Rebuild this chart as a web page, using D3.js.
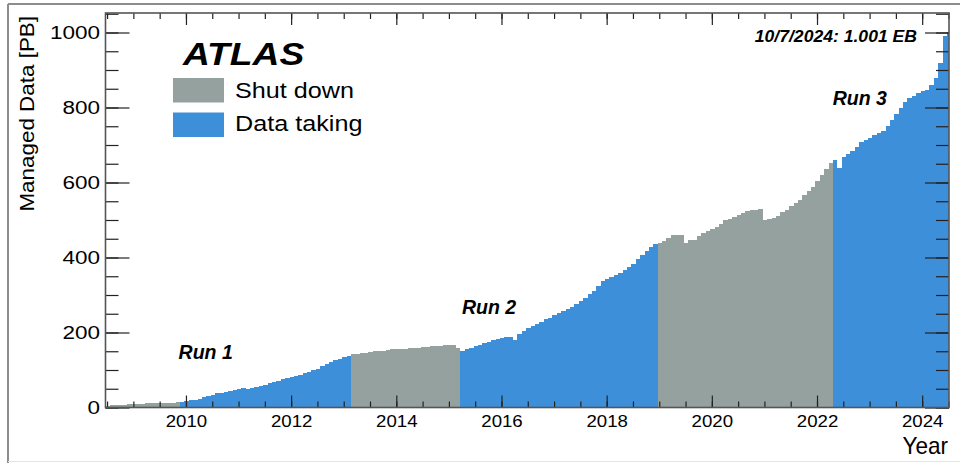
<!DOCTYPE html>
<html>
<head>
<meta charset="utf-8">
<script src="https://cdn.jsdelivr.net/npm/d3@7"></script>
<style>
  body { margin: 0; background: #fff; }
  text { font-family: "Liberation Sans", Arial, Helvetica, sans-serif; fill: #000; }
</style>
</head>
<body>
<svg width="960" height="463"></svg>
<script>
// monthly bins, first one starts mid 2008
const firstBinYear = 2008.47;
const binsPerYear = 12;

// managed data [PB] per monthly bin
const managedPB = [
  // shut down before run 1
  5, 6, 7, 8, 8, 9, 9, 10, 10, 11, 11, 11, 12, 12, 13, 13, 14,
  // run 1
  16, 17, 19, 21, 24, 27, 30, 34, 38, 40, 42, 45, 48, 50, 51, 50, 52, 55, 58, 61,
  65, 69, 72, 75, 78, 81, 84, 87, 91, 95, 99, 104, 110, 116, 121, 126, 130, 134, 138,
  // long shutdown 1
  143, 144, 146, 146, 148, 150, 151, 152, 153, 155, 156, 157, 157, 158, 159, 160,
  161, 162, 163, 164, 165, 166, 167, 167, 158,
  // run 2
  150, 155, 160, 164, 168, 172, 176, 179, 182, 185, 187, 188, 181, 196, 204, 211,
  218, 224, 229, 235, 240, 246, 252, 258, 263, 268, 276, 285, 293, 302, 312, 325,
  338, 342, 348, 353, 358, 366, 374, 382, 395, 407, 418, 428, 436,
  // long shutdown 2
  439, 444, 452, 459, 459, 459, 440, 448, 448, 458, 466, 472, 476, 482, 490, 499,
  504, 509, 514, 519, 523, 526, 527, 529, 501, 504, 506, 510, 522, 528, 537, 545,
  554, 566, 577, 587, 603, 620, 637, 652,
  // run 3
  660, 640, 667, 676, 684, 696, 708, 713, 719, 726, 731, 738, 750, 768, 784, 800,
  815, 826, 832, 840, 843, 847, 860, 878, 918, 990, 1001
];

// periods (start year) and their type
const periodStart = [2008.47, 2009.88, 2013.13, 2015.21, 2018.96, 2022.29];
const periodType  = ["Shut down", "Data taking", "Shut down", "Data taking", "Shut down", "Data taking"];

const legendLabels = ["Shut down", "Data taking"];
const runLabels = ["Run 1", "Run 2", "Run 3"];
const runLabelPos = [[2009.86, 130], [2015.25, 250], [2022.3, 808]];

const xMajorTicks = [2010, 2012, 2014, 2016, 2018, 2020, 2022, 2024];
const xMinorTicks = d3.range(2008.5, 2024.51, 0.5);
const yMajorTicks = [0, 200, 400, 600, 800, 1000];
const yMinorTicks = d3.range(0, 1051, 50);

const colors = { "Shut down": "#95a19e", "Data taking": "#3e8fda" };

const svg = d3.select("svg");
const plotLeft = 105.5, plotRight = 949, plotTop = 13, plotBottom = 407.5;

const x = d3.scaleLinear().domain([2008.47, 2024.51]).range([plotLeft, plotRight]);
const y = d3.scaleLinear().domain([0, 1052]).range([plotBottom, plotTop]);

// outer border
svg.append("line").attr("x1", 8).attr("x2", 960).attr("y1", 4).attr("y2", 4)
  .attr("stroke", "#8c8c8c").attr("stroke-width", 2);
svg.append("line").attr("x1", 8).attr("x2", 8).attr("y1", 4).attr("y2", 463)
  .attr("stroke", "#8c8c8c").attr("stroke-width", 2);
svg.append("line").attr("x1", 8).attr("x2", 960).attr("y1", 461.5).attr("y2", 461.5)
  .attr("stroke", "#e4e4e4").attr("stroke-width", 1);

function typeOf(year) {
  let t = periodType[0];
  periodStart.forEach((s, i) => { if (year >= s) t = periodType[i]; });
  return t;
}

const bins = managedPB.map((v, k) => {
  const x0 = firstBinYear + k / binsPerYear;
  const x1 = firstBinYear + (k + 1) / binsPerYear;
  return { x0, x1, v, type: typeOf((x0 + x1) / 2) };
});

svg.append("g")
  .selectAll("rect")
  .data(bins)
  .join("rect")
    .attr("x", d => x(d.x0))
    .attr("width", d => Math.min(x(d.x1), plotRight) - x(d.x0))
    .attr("y", d => y(d.v))
    .attr("height", d => y(0) - y(d.v))
    .attr("fill", d => colors[d.type])
    .attr("shape-rendering", "crispEdges");

// axes, ticks drawn inward on all four sides
function styleAxis(g) {
  g.select(".domain").remove();
  g.selectAll(".tick line").attr("stroke", "#222").attr("stroke-width", 1.2);
}

svg.append("g").attr("transform", `translate(0,${plotBottom})`)
  .call(d3.axisBottom(x).tickValues(xMinorTicks).tickSize(-6).tickFormat(""))
  .call(styleAxis);
svg.append("g").attr("transform", `translate(0,${plotBottom})`)
  .call(d3.axisBottom(x).tickValues(xMajorTicks).tickSize(-12).tickPadding(7.5).tickFormat(d3.format("d")))
  .call(styleAxis)
  .call(g => g.selectAll("text")
    .attr("font-size", 16.5).attr("fill", "#000")
    .attr("font-family", "'Liberation Sans', Arial, sans-serif")
    .attr("transform", "scale(1.13,1)"));

svg.append("g").attr("transform", `translate(0,${plotTop})`)
  .call(d3.axisTop(x).tickValues(xMinorTicks).tickSize(-6).tickFormat(""))
  .call(styleAxis);
svg.append("g").attr("transform", `translate(0,${plotTop})`)
  .call(d3.axisTop(x).tickValues(xMajorTicks).tickSize(-12).tickFormat(""))
  .call(styleAxis);

svg.append("g").attr("transform", `translate(${plotLeft},0)`)
  .call(d3.axisLeft(y).tickValues(yMinorTicks).tickSize(-13).tickFormat(""))
  .call(styleAxis);
svg.append("g").attr("transform", `translate(${plotLeft},0)`)
  .call(d3.axisLeft(y).tickValues(yMajorTicks).tickSize(-24).tickPadding(4.4).tickFormat(d3.format("d")))
  .call(styleAxis)
  .call(g => g.selectAll("text")
    .attr("font-size", 18).attr("fill", "#000")
    .attr("font-family", "'Liberation Sans', Arial, sans-serif")
    .attr("dy", "0.36em")
    .attr("transform", "scale(1.25,1)"));

svg.append("g").attr("transform", `translate(${plotRight},0)`)
  .call(d3.axisRight(y).tickValues(yMinorTicks).tickSize(-13).tickFormat(""))
  .call(styleAxis);
svg.append("g").attr("transform", `translate(${plotRight},0)`)
  .call(d3.axisRight(y).tickValues(yMajorTicks).tickSize(-24).tickFormat(""))
  .call(styleAxis);

// frame
svg.append("rect")
  .attr("x", plotLeft).attr("y", plotTop)
  .attr("width", plotRight - plotLeft).attr("height", plotBottom - plotTop)
  .attr("fill", "none").attr("stroke", "#555").attr("stroke-width", 1.6);

// axis titles
svg.append("text")
  .attr("transform", `translate(948,454) scale(0.98,1)`)
  .attr("text-anchor", "end").attr("font-size", 23)
  .text("Year");

svg.append("text")
  .attr("transform", `translate(33.5,16) rotate(-90) scale(1.15,1)`)
  .attr("text-anchor", "end").attr("font-size", 19.5)
  .text("Managed Data [PB]");

// ATLAS label and legend
svg.append("text")
  .attr("transform", "translate(183,65) scale(1.2,1)")
  .attr("font-size", 31).attr("font-weight", "bold").attr("font-style", "italic")
  .text("ATLAS");

const legend = svg.append("g");
legendLabels.forEach((lab, i) => {
  legend.append("rect")
    .attr("x", 173).attr("y", 78 + i * 34.5)
    .attr("width", 51).attr("height", 24.5)
    .attr("fill", colors[lab]);
  legend.append("text")
    .attr("transform", `translate(235,${98 + i * 33}) scale(1.13,1)`)
    .attr("font-size", 22.3)
    .text(lab);
});

svg.append("text")
  .attr("transform", "translate(917,42) scale(1.1,1)")
  .attr("text-anchor", "end")
  .attr("font-size", 16).attr("font-weight", "bold").attr("font-style", "italic")
  .text("10/7/2024: 1.001 EB");

// run labels
runLabels.forEach((lab, i) => {
  svg.append("text")
    .attr("x", x(runLabelPos[i][0])).attr("y", y(runLabelPos[i][1]))
    .attr("font-size", 19.5).attr("font-weight", "bold").attr("font-style", "italic")
    .text(lab);
});
</script>
</body>
</html>
